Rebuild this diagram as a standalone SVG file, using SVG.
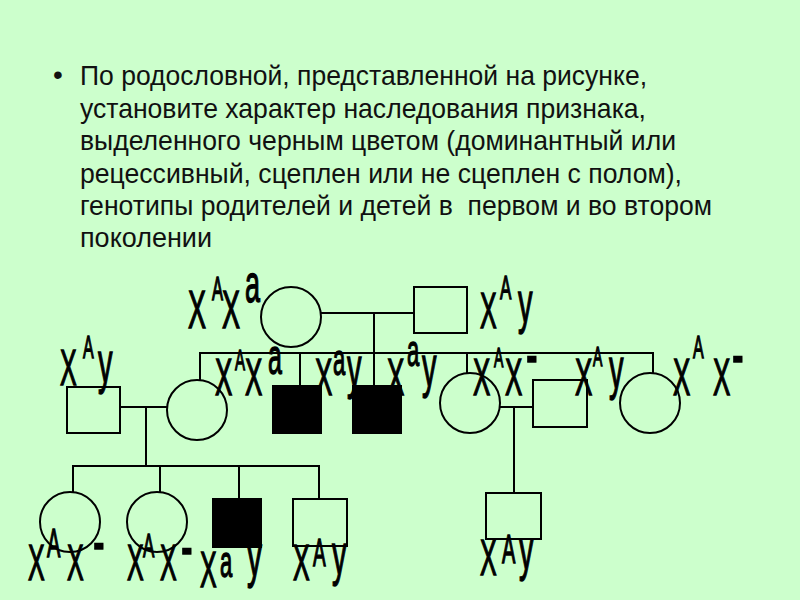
<svg xmlns="http://www.w3.org/2000/svg" width="800" height="600" viewBox="0 0 800 600">
<style>
  .bg { fill: #CCFFCC; }
  .head { font-family: "Liberation Sans", Arial, sans-serif; font-size: 28px; fill: #111; }
  .ln { stroke: #000; stroke-width: 2; fill: none; }
  .m { fill: none; stroke: #000; stroke-width: 2; }
  .f { fill: none; stroke: #000; stroke-width: 2; }
  .aff { fill: #000; stroke: #000; stroke-width: 2; }
  .lab { font-family: "Liberation Sans", Arial, sans-serif; fill: #000; stroke: #000; stroke-width: 1.4; }
</style>
<rect class="bg" x="0" y="0" width="800" height="600"/>
<g id="heading">
  <text class="head" x="53" y="84">•</text>
  <text class="head" x="80" y="85" textLength="567" lengthAdjust="spacingAndGlyphs">По родословной, представленной на рисунке,</text>
  <text class="head" x="80" y="118" textLength="566" lengthAdjust="spacingAndGlyphs">установите характер наследования признака,</text>
  <text class="head" x="80" y="150" textLength="596" lengthAdjust="spacingAndGlyphs">выделенного черным цветом (доминантный или</text>
  <text class="head" x="80" y="183" textLength="602" lengthAdjust="spacingAndGlyphs">рецессивный, сцеплен или не сцеплен с полом),</text>
  <text class="head" x="80" y="215" textLength="632" lengthAdjust="spacingAndGlyphs" xml:space="preserve">генотипы родителей и детей в  первом и во втором</text>
  <text class="head" x="80" y="247" textLength="132" lengthAdjust="spacingAndGlyphs">поколении</text>
</g>
<g id="connectors">
  <line class="ln" x1="321" y1="313" x2="414" y2="313"/>
  <line class="ln" x1="374" y1="313" x2="374" y2="386"/>
  <line class="ln" x1="199" y1="353" x2="654" y2="353"/>
  <line class="ln" x1="200" y1="353" x2="200" y2="381"/>
  <line class="ln" x1="300" y1="353" x2="300" y2="386"/>
  <line class="ln" x1="467" y1="353" x2="467" y2="373"/>
  <line class="ln" x1="653" y1="353" x2="653" y2="373"/>
  <line class="ln" x1="120" y1="407" x2="167" y2="407"/>
  <line class="ln" x1="146" y1="407" x2="146" y2="466"/>
  <line class="ln" x1="72" y1="466" x2="320" y2="466"/>
  <line class="ln" x1="73" y1="466" x2="73" y2="492"/>
  <line class="ln" x1="160" y1="466" x2="160" y2="492"/>
  <line class="ln" x1="239" y1="466" x2="239" y2="499"/>
  <line class="ln" x1="319" y1="466" x2="319" y2="499"/>
  <line class="ln" x1="500" y1="407" x2="533" y2="407"/>
  <line class="ln" x1="514" y1="407" x2="514" y2="493"/>
</g>
<g id="I-mother">
  <circle class="f" cx="291" cy="317" r="30"/>
  <text class="lab" transform="scale(0.5 1)"><tspan x="376" y="328" font-size="54">X</tspan><tspan x="424" y="300" font-size="33">A</tspan><tspan x="444" y="328" font-size="54">X</tspan><tspan x="490" y="302" font-size="54">a</tspan></text>
</g>
<g id="I-father">
  <rect class="m" x="414" y="287" width="53" height="46"/>
  <text class="lab" transform="scale(0.5 1)"><tspan x="960" y="328" font-size="50">X</tspan><tspan x="1000" y="299" font-size="34">A</tspan><tspan x="1036" y="322" font-size="58">y</tspan></text>
</g>
<g id="II-husband">
  <rect class="m" x="67" y="387" width="53" height="46"/>
  <text class="lab" transform="scale(0.5 1)"><tspan x="120" y="385" font-size="50">X</tspan><tspan x="166" y="358" font-size="32">A</tspan><tspan x="196" y="382" font-size="58">y</tspan></text>
</g>
<g id="II-daughter1">
  <circle class="f" cx="197" cy="410" r="30"/>
  <text class="lab" transform="scale(0.5 1)"><tspan x="430" y="395" font-size="52">X</tspan><tspan x="470" y="370" font-size="30">A</tspan><tspan x="490" y="395" font-size="52">X</tspan><tspan x="536" y="374" font-size="50">a</tspan></text>
</g>
<g id="II-son1">
  <rect class="aff" x="273" y="386" width="48" height="47"/>
  <text class="lab" transform="scale(0.5 1)"><tspan x="630" y="395" font-size="52">X</tspan><tspan x="666" y="375" font-size="44">a</tspan><tspan x="694" y="387" font-size="58">y</tspan></text>
</g>
<g id="II-son2">
  <rect class="aff" x="353" y="386" width="48" height="47"/>
  <text class="lab" transform="scale(0.5 1)"><tspan x="774" y="395" font-size="52">X</tspan><tspan x="814" y="366" font-size="44">a</tspan><tspan x="844" y="386" font-size="58">y</tspan></text>
</g>
<g id="II-daughter2">
  <circle class="f" cx="470" cy="403" r="30"/>
  <text class="lab" transform="scale(0.5 1)"><tspan x="946" y="395" font-size="52">X</tspan><tspan x="988" y="367" font-size="28">A</tspan><tspan x="1010" y="395" font-size="52">X</tspan><tspan x="1052" y="378" font-size="70">-</tspan></text>
</g>
<g id="II-husband2">
  <rect class="m" x="533" y="380" width="54" height="47"/>
  <text class="lab" transform="scale(0.5 1)"><tspan x="1150" y="395" font-size="52">X</tspan><tspan x="1186" y="366" font-size="28">A</tspan><tspan x="1218" y="388" font-size="58">y</tspan></text>
</g>
<g id="II-daughter3">
  <circle class="f" cx="650" cy="403" r="30"/>
  <text class="lab" transform="scale(0.5 1)"><tspan x="1346" y="395" font-size="52">X</tspan><tspan x="1386" y="358" font-size="32">A</tspan><tspan x="1426" y="395" font-size="52">X</tspan><tspan x="1464" y="378" font-size="70">-</tspan></text>
</g>
<g id="III-daughter1">
  <circle class="f" cx="70" cy="522" r="30"/>
  <text class="lab" transform="scale(0.5 1)"><tspan x="56" y="580" font-size="50">X</tspan><tspan x="94" y="557" font-size="40">A</tspan><tspan x="134" y="580" font-size="50">X</tspan><tspan x="186" y="565" font-size="70">-</tspan></text>
</g>
<g id="III-daughter2">
  <circle class="f" cx="157" cy="522" r="30"/>
  <text class="lab" transform="scale(0.5 1)"><tspan x="254" y="580" font-size="50">X</tspan><tspan x="286" y="557" font-size="34">A</tspan><tspan x="320" y="580" font-size="50">X</tspan><tspan x="362" y="570" font-size="70">-</tspan></text>
</g>
<g id="III-son1">
  <rect class="aff" x="213" y="499" width="48" height="48"/>
  <text class="lab" transform="scale(0.5 1)"><tspan x="400" y="587" font-size="50">X</tspan><tspan x="440" y="577" font-size="44">a</tspan><tspan x="494" y="576" font-size="60">y</tspan></text>
</g>
<g id="III-son2">
  <rect class="m" x="293" y="499" width="54" height="47"/>
  <text class="lab" transform="scale(0.5 1)"><tspan x="586" y="580" font-size="50">X</tspan><tspan x="626" y="566" font-size="38">A</tspan><tspan x="664" y="574" font-size="58">y</tspan></text>
</g>
<g id="III-son3">
  <rect class="m" x="486" y="493" width="55" height="46"/>
  <text class="lab" transform="scale(0.5 1)"><tspan x="960" y="575" font-size="50">X</tspan><tspan x="1004" y="563" font-size="40">A</tspan><tspan x="1038" y="569" font-size="58">y</tspan></text>
</g>
</svg>
